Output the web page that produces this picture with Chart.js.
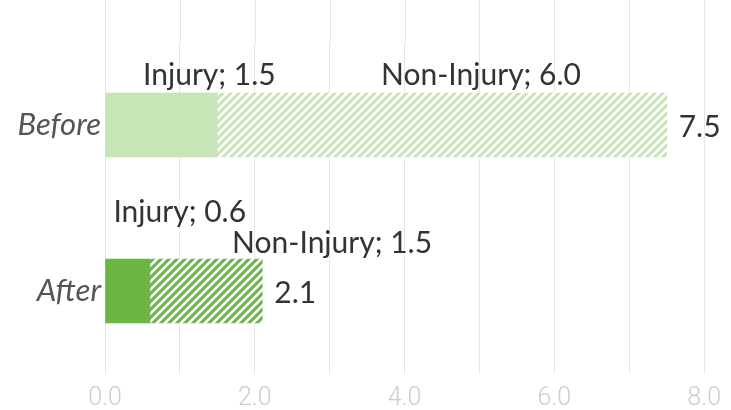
<!DOCTYPE html>
<html>
<head>
<meta charset="utf-8">
<script src="https://cdn.jsdelivr.net/npm/chart.js@4"></script>
<style>
  html, body { margin: 0; padding: 0; background: #fff; }
  #wrap { width: 731px; height: 410px; position: relative; }
</style>
</head>
<body>
<div id="wrap"><canvas id="c"></canvas></div>
<script>
const categories = ['Before', 'After'];
const injury = [1.5, 0.6];
const nonInjury = [6.0, 1.5];
const xTicks = [0, 2, 4, 6, 8];

function hatch(base, stripe) {
  const s = 8;
  const cv = document.createElement('canvas');
  cv.width = s; cv.height = s;
  const g = cv.getContext('2d');
  g.fillStyle = base; g.fillRect(0, 0, s, s);
  g.strokeStyle = stripe; g.lineWidth = 2.6;
  g.beginPath();
  g.moveTo(-2, s + 2); g.lineTo(s + 2, -2);
  g.moveTo(-2, 2); g.lineTo(2, -2);
  g.moveTo(s - 2, s + 2); g.lineTo(s + 2, s - 2);
  g.stroke();
  return g.createPattern(cv, 'repeat');
}
const ctxMain = document.getElementById('c').getContext('2d');
const solidColors = ['#c8e5b8', '#6cb646'];
const hatchColors = [hatch('#c8e5b8', '#ffffff'), hatch('#6cb646', '#ffffff')];

// label offsets (style): [dx, dy] relative to bar segment center
const labelOffsets = {
  0: [[48, -50], [52, -79]],
  1: [[39, -50], [126, -48]]
};

const labelPlugin = {
  id: 'labels',
  afterDatasetsDraw(chart) {
    const c = chart.ctx;
    c.save();
    c.font = '30px Lato';
    c.fillStyle = '#333333';
    c.textAlign = 'center';
    c.textBaseline = 'middle';
    chart.data.datasets.forEach((ds, di) => {
      const meta = chart.getDatasetMeta(di);
      meta.data.forEach((bar, i) => {
        const cx = (bar.x + bar.base) / 2;
        const off = labelOffsets[di][i];
        c.fillText(ds.label + '; ' + ds.data[i].toFixed(1), cx + off[0], bar.y + off[1]);
      });
    });
    const last = chart.getDatasetMeta(chart.data.datasets.length - 1);
    c.textAlign = 'left';
    last.data.forEach((bar, i) => {
      const total = injury[i] + nonInjury[i];
      c.fillText(total.toFixed(1), bar.x + 12, bar.y + 2);
    });
    c.restore();
  }
};

const gridExtend = {
  id: 'gridExtend',
  beforeDatasetsDraw(chart) {
    const c = chart.ctx;
    const xs = chart.scales.x;
    c.save();
    c.strokeStyle = '#e6e6e6';
    c.lineWidth = 1;
    xs.ticks.forEach(t => {
      const px = Math.round(xs.getPixelForValue(t.value)) + 0.5;
      c.beginPath();
      c.moveTo(px, 0);
      c.lineTo(px, chart.chartArea.top);
      c.stroke();
    });
    c.restore();
  }
};

new Chart(ctxMain, {
  type: 'bar',
  data: {
    labels: categories,
    datasets: [
      { label: 'Injury', data: injury, backgroundColor: solidColors, barThickness: 64 },
      { label: 'Non-Injury', data: nonInjury, backgroundColor: hatchColors, barThickness: 64 }
    ]
  },
  options: {
    indexAxis: 'y',
    responsive: true,
    maintainAspectRatio: false,
    animation: false,
    layout: { padding: { top: 42, right: 19, left: 0, bottom: 0 } },
    plugins: { legend: { display: false }, tooltip: { enabled: false } },
    scales: {
      x: {
        stacked: true,
        min: 0, max: 8,
        border: { display: false },
        grid: { color: '#e6e6e6', drawTicks: false },
        ticks: {
          stepSize: 1,
          autoSkip: false,
          maxRotation: 0,
          padding: 10,
          color: '#cdcdcd',
          font: { family: 'Roboto', size: 25, weight: '300' },
          callback: (v) => xTicks.includes(v) ? v.toFixed(1) : ''
        },
        afterFit(s) { s.height = 36; }
      },
      y: {
        stacked: true,
        border: { display: false },
        grid: { display: false, drawTicks: false },
        ticks: {
          padding: 4,
          color: '#555555',
          font: { family: 'Lato', size: 31, style: 'italic' }
        },
        afterFit(s) { s.width = 105; }
      }
    }
  },
  plugins: [gridExtend, labelPlugin]
});
</script>
</body>
</html>
